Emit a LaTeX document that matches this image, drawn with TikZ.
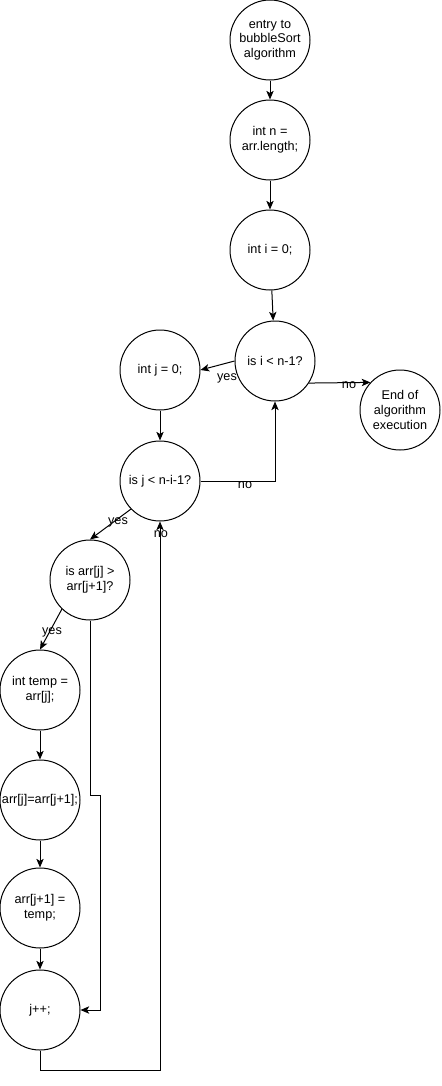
\documentclass[tikz,border=0pt]{standalone}
\usepackage{fontspec}
\setmainfont{Liberation Sans}
\usetikzlibrary{arrows.meta}
\begin{document}
\begin{tikzpicture}[x=0.75pt,y=-0.75pt,
  stepnode/.style={draw=black,line width=0.75pt,circle,minimum size=60pt,inner sep=0pt,
    align=center,font=\fontsize{9.5}{11}\selectfont},
  flow/.style={draw=black,line width=0.75pt,-{Stealth[length=6.5pt,width=5.5pt,inset=1.6pt]}},
  lbl/.style={font=\fontsize{9.5}{11}\selectfont,inner sep=0pt}]
\useasboundingbox (0,0) rectangle (442,1086);

% states of the sort
\node[stepnode] (entry) at (270,40)   {entry to\\bubbleSort\\algorithm};
\node[stepnode] (intn)  at (270,140)  {int n =\\arr.length;};
\node[stepnode] (inti)  at (270,250)  {int i = 0;};
\node[stepnode] (isi)   at (275,361)  {is i \textless{} n-1?};
\node[stepnode] (intj)  at (160,370)  {int j = 0;};
\node[stepnode] (done)  at (400,410)  {End of\\algorithm\\execution};
\node[stepnode] (isj)   at (160,481)  {is j \textless{} n-i-1?};
\node[stepnode] (isarr) at (90,580)   {is arr[j] \textgreater\\arr[j+1]?};
\node[stepnode] (temp)  at (40,690)   {int temp =\\arr[j];};
\node[stepnode] (swap)  at (40,800)   {arr[j]=arr[j+1];};
\node[stepnode] (back)  at (40,908)   {arr[j+1] =\\temp;};
\node[stepnode] (jpp)   at (40,1010)  {j++;};

% bend points of the routed connectors
\coordinate (skipA) at (90,795);
\coordinate (skipB) at (100,795);
\coordinate (skipC) at (100,1010);
\coordinate (loopA) at (40,1070);
\coordinate (loopB) at (160,1070);

% straight flow
\draw[flow] (entry) -- (intn);
\draw[flow] (intn) -- (inti);
\draw[flow] (inti) -- (isi);
\draw[flow] (isi.west) -- (intj.east);
\draw[flow] (isi.-33.4) -- (done.137.5);
\draw[flow] (intj) -- (isj);
\draw[flow] (isj.-136) -- (isarr.north);
\draw[flow] (isarr.-134) -- (temp.north);
\draw[flow] (temp) -- (swap);
\draw[flow] (swap) -- (back);
\draw[flow] (back) -- (jpp);

% routed flow
\draw[flow] (isj.east) -| (isi.south);
\draw[flow] (isarr.south) -- (skipA) -- (skipB) -- (skipC) -- (jpp.east);
\draw[flow] (jpp.south) -- (loopA) -- (loopB) -- (isj.south);

% branch labels
\node[lbl] (yesI) at (227,378) {yes};
\node[lbl] (noI)  at (349,385) {no};
\node[lbl] (noJ)  at (245,485) {no};
\node[lbl] (yesJ) at (118,522) {yes};
\node[lbl] (noL)  at (161,534) {no};
\node[lbl] (yesA) at (52,632)  {yes};
\end{tikzpicture}
\end{document}
